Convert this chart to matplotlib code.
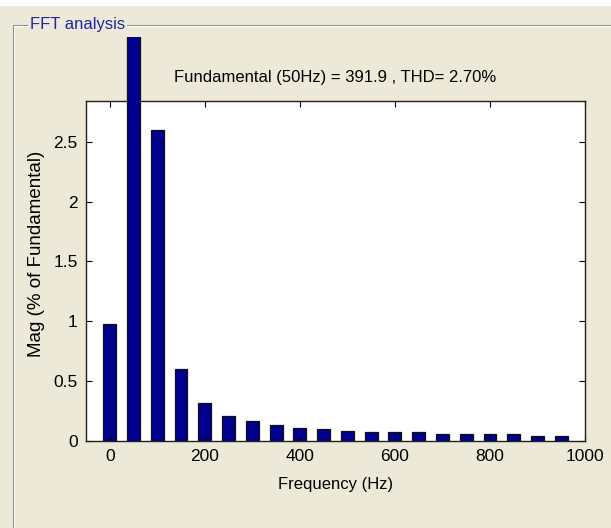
import matplotlib
matplotlib.use('Agg')
import matplotlib.pyplot as plt
from matplotlib.lines import Line2D
from matplotlib.patches import Rectangle
from matplotlib.transforms import Bbox, TransformedBbox

# Harmonic spectrum (percent of fundamental), 50 Hz spacing
freqs = [0, 50, 100, 150, 200, 250, 300, 350, 400, 450,
         500, 550, 600, 650, 700, 750, 800, 850, 900, 950]
mags = [0.98, 100.0, 2.60, 0.60, 0.32, 0.21, 0.17, 0.13, 0.11, 0.10,
        0.086, 0.072, 0.072, 0.072, 0.058, 0.058, 0.058, 0.058, 0.044, 0.044]
xticks = [0, 200, 400, 600, 800, 1000]
yticks = [0, 0.5, 1, 1.5, 2, 2.5]
title = 'Fundamental (50Hz) = 391.9 , THD= 2.70%'
panelTitle = 'FFT analysis'

W, H = 611, 528
fam = ['Liberation Sans', 'DejaVu Sans']
bg = '#ECE9D8'

fig = plt.figure(figsize=(W / 100, H / 100), dpi=100, facecolor=bg)

def fx(px):
    return px / W

def fy(py):
    return (H - py) / H

# white strip at the very top
fig.add_artist(Rectangle((0, fy(6)), 1, 1 - fy(6), transform=fig.transFigure,
                         facecolor='white', edgecolor='none'))

# etched panel border
for c, off in (('#8C8C8C', 0), ('white', 1)):
    fig.add_artist(Line2D([fx(12.5 + off), fx(12.5 + off)], [fy(24.5 + off), 0],
                          transform=fig.transFigure, color=c, lw=0.75))
    fig.add_artist(Line2D([fx(12.5 + off), fx(27)], [fy(24.5 + off), fy(24.5 + off)],
                          transform=fig.transFigure, color=c, lw=0.75))
    fig.add_artist(Line2D([fx(127), 1], [fy(24.5 + off), fy(24.5 + off)],
                          transform=fig.transFigure, color=c, lw=0.75))
fig.text(fx(30), fy(24), panelTitle, color='#24249C', fontsize=12,
         family=fam, ha='left', va='center')

ax = fig.add_axes([fx(86), fy(441), fx(585) - fx(86), fy(101) - fy(441)])
ax.set_facecolor('white')
bars = ax.bar(freqs, mags, width=27, color='#000090', edgecolor='#101010',
              linewidth=0.9)
# fundamental bar runs above the axes until the panel edge
clip = TransformedBbox(Bbox([[0, fy(441)], [1, fy(37)]]), fig.transFigure)
fund = bars[freqs.index(50)]
fund.set_clip_box(clip)
fund.set_zorder(3)

ax.set_xlim(-50, 1000)
ax.set_ylim(0, 2.84)
ax.set_xticks(xticks)
ax.set_yticks(yticks)
ax.set_yticklabels(['0', '0.5', '1', '1.5', '2', '2.5'])
ax.tick_params(direction='in', length=4, width=0.8, top=True, right=True,
               labelsize=12.5, pad=6, colors='black')
for lab in ax.get_xticklabels() + ax.get_yticklabels():
    lab.set_family(fam)
for s in ax.spines.values():
    s.set_linewidth(1)
    s.set_color('#202020')

ax.set_title(title, fontsize=12, family=fam, pad=14)
ax.set_xlabel('Frequency (Hz)', fontsize=12, family=fam, labelpad=9)
ax.set_ylabel('Mag (% of Fundamental)', fontsize=13.5, family=fam)
ax.yaxis.set_label_coords(-0.082, 0.551)

fig.savefig('out.png', dpi=100, facecolor=bg)
